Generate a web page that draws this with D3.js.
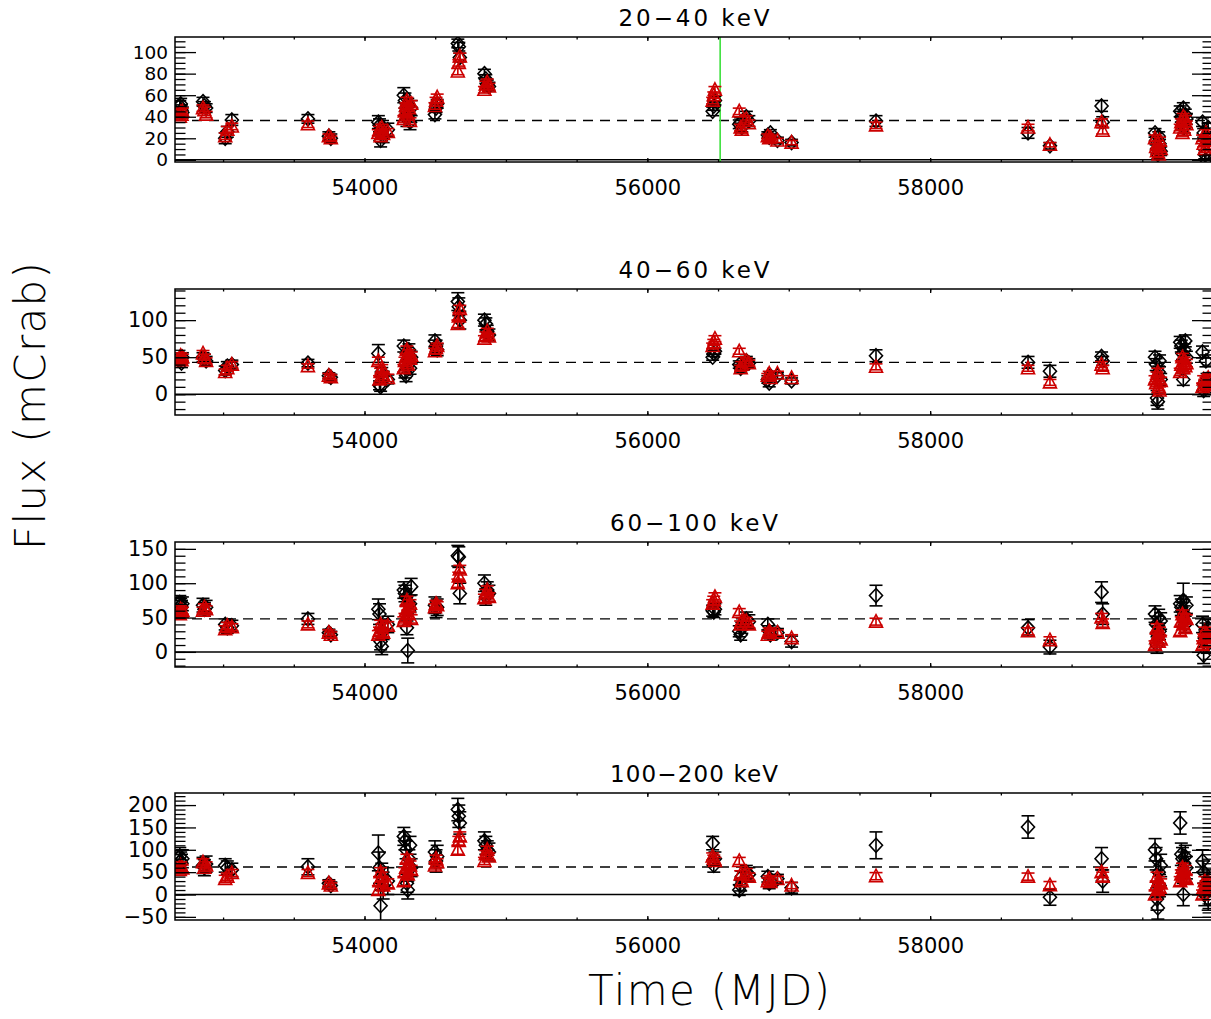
<!DOCTYPE html>
<html>
<head>
<meta charset="utf-8">
<script src="https://cdn.jsdelivr.net/npm/d3@7"></script>
<style>
  body { margin: 0; background: #fff; }
  text { font-family: "DejaVu Sans", Arial, sans-serif; fill: #000; }
</style>
</head>
<body>
<div id="chart"></div>
<script>
// observation epochs (MJD), shared by both series
var mjd = [52694, 52700, 52706, 52712,
  52858, 52868, 52880,
  53015, 53030, 53062,
  53600,
  53748, 53762,
  54098, 54106, 54114, 54122, 54132, 54165,
  54278, 54286, 54294, 54300, 54306, 54314, 54322, 54330,
  54498, 54506, 54514,
  54660, 54667, 54674,
  54848, 54858, 54868, 54880,
  56462, 56470, 56478,
  56650, 56660, 56668,
  56700, 56718,
  56852, 56862, 56870,
  56920,
  57020,
  57617,
  58692,
  58847,
  59212, 59220,
  59590, 59598, 59604, 59610, 59616, 59622, 59630,
  59768, 59776, 59784, 59790, 59796, 59804, 59812,
  59926, 59934, 59942, 59950, 59958, 59966];

// 20-40 keV
var b1 = [50, 52, 46, 44, 54, 50, 48, 20, 26, 37, 38, 22, 20,
  35, 32, 18, 27, 22, 28, 60, 55, 45, 38, 50, 42, 35, 48, 42, 48, 52,
  108, 105, 95, 80, 75, 70, 68, 45, 50, 55, 33, 35, 30, 40, 36,
  23, 21, 25, 18, 16, 36, 25, 13, 50, 35,
  25, 18, 10, 5, 22, 15, 8, 45, 40, 35, 48, 30, 42, 38, 35, 25, 5, 0, 20, 30];
var eb1 = [5, 5, 5, 5, 4, 4, 4, 5, 5, 5, 4, 4, 4,
  6, 6, 6, 6, 6, 6, 7, 7, 7, 7, 7, 7, 7, 7, 4, 4, 4,
  4, 4, 4, 4, 4, 4, 4, 4, 4, 4, 4, 4, 4, 5, 5,
  3, 3, 3, 3, 3, 5, 5, 3, 5, 5,
  4, 4, 4, 4, 4, 4, 4, 5, 5, 5, 5, 5, 5, 5, 4, 4, 4, 4, 4, 4];
var r1 = [40, 44, 42, 45, 48, 46, 42, 22, 28, 31, 33, 22, 20,
  25, 28, 22, 30, 24, 26, 38, 45, 50, 55, 42, 48, 36, 52, 50, 55, 58,
  82, 90, 96, 65, 70, 72, 68, 55, 60, 65, 45, 30, 28, 38, 34,
  22, 20, 21, 18, 16, 32, 30, 14, 35, 27,
  20, 12, 8, 15, 5, 18, 10, 30, 35, 25, 40, 28, 38, 33, 20, 15, 10, 25, 18, 12];
var er1 = [3, 3, 3, 3, 3, 3, 3, 3, 3, 3, 3, 2, 2,
  3, 3, 3, 3, 3, 3, 3, 3, 3, 3, 3, 3, 3, 3, 3, 3, 3,
  3, 3, 3, 3, 3, 3, 3, 3, 3, 3, 3, 3, 3, 3, 3,
  2, 2, 2, 2, 2, 3, 3, 2, 3, 3,
  3, 3, 3, 3, 3, 3, 3, 3, 3, 3, 3, 3, 3, 3, 3, 3, 3, 3, 3, 3];

// 40-60 keV
var b2 = [45, 48, 42, 50, 50, 48, 45, 32, 38, 40, 42, 25, 23,
  55, 12, 10, 30, 25, 20, 65, 30, 25, 55, 45, 60, 35, 50, 72, 65, 60,
  125, 118, 100, 100, 95, 85, 80, 50, 55, 58, 40, 35, 38, 45, 42,
  20, 15, 25, 25, 18, 52, 43, 31, 51, 45,
  50, 40, -5, -10, 30, 45, 20, 70, 65, 55, 20, 60, 72, 50, 57, 5, 10, 45, 20, 15];
var eb2 = [6, 6, 6, 6, 6, 6, 6, 6, 6, 6, 5, 4, 4,
  12, 6, 6, 6, 6, 6, 8, 8, 8, 8, 8, 8, 8, 8, 8, 8, 8,
  12, 12, 12, 8, 8, 8, 8, 4, 4, 4, 5, 5, 5, 6, 6,
  5, 5, 5, 4, 4, 8, 8, 8, 6, 6,
  8, 8, 10, 10, 8, 8, 8, 8, 8, 8, 8, 8, 8, 8, 8, 8, 8, 8, 8, 8];
var r2 = [48, 52, 46, 50, 55, 50, 45, 30, 35, 40, 38, 25, 23,
  45, 20, 30, 35, 25, 22, 35, 45, 50, 60, 40, 55, 48, 52, 58, 62, 65,
  95, 105, 115, 75, 80, 85, 78, 65, 70, 75, 58, 35, 40, 45, 42,
  25, 28, 22, 28, 22, 37, 35, 16, 40, 35,
  20, 15, 25, 30, 10, 5, 18, 30, 40, 50, 35, 45, 38, 42, 10, 20, 15, 18, 12, 22];
var er2 = [4, 4, 4, 4, 4, 4, 4, 4, 4, 4, 3, 3, 3,
  5, 5, 5, 5, 5, 5, 5, 5, 5, 5, 5, 5, 5, 5, 4, 4, 4,
  5, 5, 5, 4, 4, 4, 4, 4, 4, 4, 4, 4, 4, 4, 4,
  3, 3, 3, 3, 3, 4, 4, 4, 4, 4,
  5, 5, 5, 5, 5, 5, 5, 5, 5, 5, 5, 5, 5, 5, 5, 5, 5, 5, 5, 5];

// 60-100 keV
var b3 = [72, 68, 65, 70, 68, 62, 65, 40, 35, 38, 48, 28, 25,
  62, 55, 15, 8, 30, 40, 90, 85, 80, 35, 2, 60, 70, 95, 68, 62, 65,
  140, 138, 85, 100, 80, 90, 85, 60, 58, 62, 30, 25, 35, 48, 44,
  40, 30, 25, 28, 15, 82, 35, 7, 87, 55,
  55, 40, 10, 25, 50, 30, 45, 70, 65, 60, 75, 55, 40, 68, 40, -5, 20, 30, 10, 35];
var eb3 = [10, 10, 10, 10, 10, 10, 10, 8, 8, 8, 8, 5, 5,
  15, 15, 12, 12, 12, 12, 12, 12, 12, 10, 18, 12, 12, 12, 12, 12, 12,
  15, 15, 15, 12, 12, 12, 12, 8, 8, 8, 8, 8, 8, 10, 10,
  8, 8, 8, 6, 8, 15, 12, 10, 15, 15,
  12, 12, 12, 12, 12, 12, 12, 12, 12, 12, 25, 12, 12, 12, 12, 12, 12, 12, 12, 12];
var r3 = [55, 62, 58, 60, 60, 65, 62, 33, 38, 36, 40, 28, 25,
  25, 30, 40, 35, 28, 38, 45, 50, 60, 75, 55, 65, 70, 48, 65, 70, 68,
  100, 110, 120, 78, 85, 90, 80, 70, 75, 80, 58, 40, 45, 45, 40,
  25, 30, 28, 28, 20, 44, 30, 17, 50, 42,
  10, 20, 35, 25, 15, 30, 18, 30, 45, 55, 40, 50, 35, 48, 10, 20, 30, 25, 15, 22];
var er3 = [5, 5, 5, 5, 5, 5, 5, 5, 5, 5, 5, 4, 4,
  6, 6, 6, 6, 6, 6, 6, 6, 6, 6, 6, 6, 6, 6, 5, 5, 5,
  6, 6, 6, 6, 6, 6, 6, 6, 6, 6, 5, 5, 5, 5, 5,
  5, 5, 5, 4, 5, 5, 5, 5, 6, 6,
  6, 6, 6, 6, 6, 6, 6, 6, 6, 6, 6, 6, 6, 6, 6, 6, 6, 6, 6, 6];

// 100-200 keV
var b4 = [85, 75, 70, 80, 65, 60, 68, 65, 60, 55, 62, 25, 20,
  93, 60, -25, 40, 20, 30, 130, 120, 100, 25, 10, 80, 110, 60, 95, 75, 85,
  190, 175, 160, 120, 110, 100, 95, 115, 65, 80, 10, 20, 40, 50, 45,
  40, 25, 30, 35, 15, 110, 151, -6, 80, 30,
  100, 80, -10, -30, 50, 20, 65, 160, 90, 80, 0, 70, 85, 60, 75, 50, 0, 20, 30, -10];
var eb4 = [20, 20, 20, 20, 18, 18, 18, 15, 15, 15, 18, 8, 8,
  40, 35, 35, 30, 30, 30, 20, 20, 20, 20, 20, 20, 20, 20, 25, 25, 25,
  25, 25, 25, 20, 20, 20, 20, 15, 15, 15, 12, 12, 12, 15, 15,
  12, 12, 12, 10, 12, 30, 25, 18, 25, 25,
  25, 25, 25, 25, 25, 25, 25, 25, 25, 25, 25, 25, 25, 25, 25, 25, 25, 25, 25, 25];
var r4 = [55, 65, 60, 58, 72, 60, 65, 35, 40, 48, 48, 25, 20,
  10, 30, 50, 40, 20, 25, 30, 50, 60, 80, 45, 70, 65, 55, 65, 80, 72,
  100, 120, 130, 75, 90, 100, 85, 85, 80, 75, 75, 45, 30, 50, 40,
  30, 35, 28, 35, 20, 41, 40, 21, 50, 40,
  0, 20, 40, 10, 30, 15, 25, 30, 45, 60, 50, 40, 55, 35, 0, 15, 30, 20, 10, 25];
var er4 = [8, 8, 8, 8, 8, 8, 8, 8, 8, 8, 8, 6, 6,
  10, 10, 10, 10, 10, 10, 10, 10, 10, 10, 10, 10, 10, 10, 8, 8, 8,
  10, 10, 10, 8, 8, 8, 8, 8, 8, 8, 8, 8, 8, 8, 8,
  7, 7, 7, 6, 7, 8, 8, 8, 10, 10,
  10, 10, 10, 10, 10, 10, 10, 10, 10, 10, 10, 10, 10, 10, 10, 10, 10, 10, 10, 10];

var titles = ["20\u221240 keV", "40\u221260 keV", "60\u2212100 keV", "100\u2212200 keV"];
var meanFlux = [36.5, 43, 48, 61.5];
var yDomains = [[-2, 114], [-28, 142], [-22, 160], [-57, 227]];
var yMajor = [[0, 20, 40, 60, 80, 100], [0, 50, 100], [0, 50, 100, 150], [-50, 0, 50, 100, 150, 200]];
var yMinorStep = [5, 10, 10, 10];
var xTicks = [54000, 56000, 58000];
var xDomain = [52660, 60000];
var markMjd = 56515;

var panels = [
  {b: b1, eb: eb1, r: r1, er: er1},
  {b: b2, eb: eb2, r: r2, er: er2},
  {b: b3, eb: eb3, r: r3, er: er3},
  {b: b4, eb: eb4, r: r4, er: er4}
];

var svgWidth = 1211, svgHeight = 1019;
var left = 175, right = 1213;
var panelTop = [37, 289, 542, 793];
var panelH = [125, 126, 125, 127];
var red = "#cc0000";

var svg = d3.select("#chart").append("svg")
  .attr("width", svgWidth)
  .attr("height", svgHeight);

var x = d3.scaleLinear().domain(xDomain).range([left, right]);
var xMinor = d3.range(53000, 60001, 500);

var diamond = "M0,-7L6.5,0L0,7L-6.5,0Z";
var triangle = "M0,-7L6.5,5.5L-6.5,5.5Z";

panels.forEach(function(p, i) {
  var top = panelTop[i], bot = panelTop[i] + panelH[i];
  var y = d3.scaleLinear().domain(yDomains[i]).range([bot, top]);
  var g = svg.append("g");

  var clipId = "clip" + i;
  svg.append("clipPath").attr("id", clipId)
    .append("rect")
    .attr("x", left).attr("y", top)
    .attr("width", right - left).attr("height", bot - top);

  var plot = g.append("g").attr("clip-path", "url(#" + clipId + ")");

  // zero line and mean level
  plot.append("line")
    .attr("x1", left).attr("x2", right)
    .attr("y1", y(0)).attr("y2", y(0))
    .attr("stroke", "#000").attr("stroke-width", 1.5);
  plot.append("line")
    .attr("x1", left).attr("x2", right)
    .attr("y1", y(meanFlux[i])).attr("y2", y(meanFlux[i]))
    .attr("stroke", "#000").attr("stroke-width", 1.3)
    .attr("stroke-dasharray", "10,7");

  if (i === 0) {
    plot.append("line")
      .attr("x1", x(markMjd)).attr("x2", x(markMjd))
      .attr("y1", top).attr("y2", bot)
      .attr("stroke", "#3ee03e").attr("stroke-width", 1.6);
  }

  function series(vals, errs, color, shape) {
    var pts = mjd.map(function(t, k) { return {t: t, v: vals[k], e: errs[k]}; });
    var s = plot.append("g")
      .attr("stroke", color).attr("fill", "none").attr("stroke-width", 1.6);
    var eg = s.selectAll("g.err").data(pts).enter().append("g").attr("class", "err");
    eg.append("line")
      .attr("x1", function(d) { return x(d.t); })
      .attr("x2", function(d) { return x(d.t); })
      .attr("y1", function(d) { return y(d.v - d.e); })
      .attr("y2", function(d) { return y(d.v + d.e); });
    eg.append("line")
      .attr("x1", function(d) { return x(d.t) - 6.5; })
      .attr("x2", function(d) { return x(d.t) + 6.5; })
      .attr("y1", function(d) { return y(d.v + d.e); })
      .attr("y2", function(d) { return y(d.v + d.e); });
    eg.append("line")
      .attr("x1", function(d) { return x(d.t) - 6.5; })
      .attr("x2", function(d) { return x(d.t) + 6.5; })
      .attr("y1", function(d) { return y(d.v - d.e); })
      .attr("y2", function(d) { return y(d.v - d.e); });
    s.selectAll("path.mk").data(pts).enter().append("path")
      .attr("class", "mk")
      .attr("d", shape)
      .attr("transform", function(d) { return "translate(" + x(d.t) + "," + y(d.v) + ")"; });
  }
  series(p.b, p.eb, "#000", diamond);
  series(p.r, p.er, red, triangle);

  // axes
  var yMin = d3.range(Math.ceil(yDomains[i][0] / yMinorStep[i]) * yMinorStep[i], yDomains[i][1], yMinorStep[i]);

  g.append("g").attr("transform", "translate(" + left + ",0)")
    .call(d3.axisLeft(y).tickValues(yMin).tickFormat("").tickSizeInner(-10.5).tickSizeOuter(0));
  g.append("g").attr("transform", "translate(" + left + ",0)").attr("class", "ylab")
    .call(d3.axisLeft(y).tickValues(yMajor[i]).tickFormat(d3.format("d")).tickSizeInner(-21).tickSizeOuter(0).tickPadding(7));
  g.append("g").attr("transform", "translate(" + right + ",0)")
    .call(d3.axisRight(y).tickValues(yMin).tickFormat("").tickSizeInner(-10.5).tickSizeOuter(0));
  g.append("g").attr("transform", "translate(" + right + ",0)")
    .call(d3.axisRight(y).tickValues(yMajor[i]).tickFormat("").tickSizeInner(-21).tickSizeOuter(0));

  g.append("g").attr("transform", "translate(0," + bot + ")")
    .call(d3.axisBottom(x).tickValues(xMinor).tickFormat("").tickSizeInner(-2.5).tickSizeOuter(0));
  g.append("g").attr("transform", "translate(0," + bot + ")").attr("class", "xlab")
    .call(d3.axisBottom(x).tickValues(xTicks).tickFormat(d3.format("d")).tickSizeInner(-4).tickSizeOuter(0).tickPadding(18));
  g.append("g").attr("transform", "translate(0," + top + ")")
    .call(d3.axisTop(x).tickValues(xMinor).tickFormat("").tickSizeInner(-2.5).tickSizeOuter(0));
  g.append("g").attr("transform", "translate(0," + top + ")")
    .call(d3.axisTop(x).tickValues(xTicks).tickFormat("").tickSizeInner(-4).tickSizeOuter(0));

  g.selectAll(".domain").remove();
  g.selectAll(".tick line").attr("stroke", "#000").attr("stroke-width", 1.3);
  g.selectAll(".tick text")
    .style("font-family", "'DejaVu Sans', Arial, sans-serif")
    .style("font-size", "21px").attr("fill", "#000");
  if (i === 0) g.selectAll(".ylab .tick text").style("font-size", "18.5px");

  g.append("rect")
    .attr("x", left).attr("y", top)
    .attr("width", right - left).attr("height", bot - top)
    .attr("fill", "none").attr("stroke", "#000").attr("stroke-width", 1.5);

  g.append("text")
    .attr("x", (left + right) / 2).attr("y", top - 11)
    .attr("text-anchor", "middle")
    .attr("textLength", i < 2 ? 151 : 168).attr("lengthAdjust", "spacing")
    .style("font-size", "23px")
    .text(titles[i]);
});

svg.append("text")
  .attr("transform", "translate(45,406) rotate(-90)")
  .attr("text-anchor", "middle")
  .attr("textLength", 288).attr("lengthAdjust", "spacing")
  .style("font-size", "42px")
  .style("font-weight", 300)
  .text("Flux (mCrab)");

svg.append("text")
  .attr("x", 709).attr("y", 1005)
  .attr("text-anchor", "middle")
  .attr("textLength", 242).attr("lengthAdjust", "spacing")
  .style("font-size", "42px")
  .style("font-weight", 300)
  .text("Time (MJD)");
</script>
</body>
</html>
